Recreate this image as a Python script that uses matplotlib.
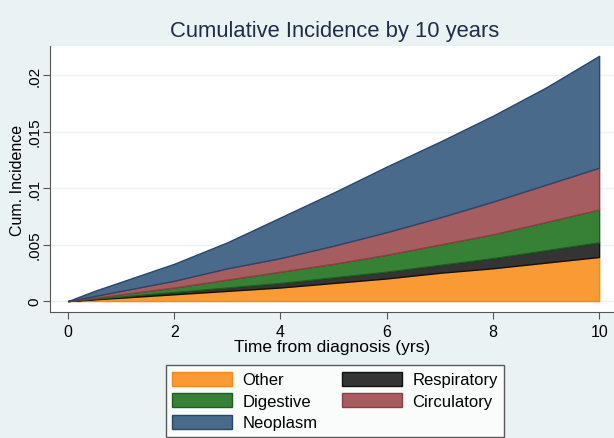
import numpy as np
import matplotlib.pyplot as plt

plt.rcParams['font.family'] = ['Liberation Sans', 'DejaVu Sans']

# time (years) and cumulative incidence, stacked tops for each cause
years = [0, 0.5, 1, 2, 3, 4, 5, 6, 7, 8, 9, 10]
other_top = [0, 0.00015, 0.0003, 0.0006, 0.0009, 0.0012, 0.0016, 0.0020, 0.0025, 0.0029, 0.0034, 0.0039]
respiratory_top = [0, 0.0002, 0.0004, 0.0008, 0.0012, 0.0016, 0.0021, 0.0026, 0.0032, 0.0038, 0.0045, 0.0052]
digestive_top = [0, 0.0003, 0.0006, 0.0012, 0.0019, 0.0026, 0.0033, 0.0041, 0.0050, 0.0059, 0.0070, 0.0081]
circulatory_top = [0, 0.00045, 0.0009, 0.0018, 0.0029, 0.0038, 0.0049, 0.0061, 0.0074, 0.0088, 0.0103, 0.0118]
neoplasm_top = [0, 0.0009, 0.0017, 0.0033, 0.0052, 0.0074, 0.0096, 0.0119, 0.0141, 0.0164, 0.0189, 0.0217]

xticks = [0, 2, 4, 6, 8, 10]
yticks = [0, 0.005, 0.01, 0.015, 0.02]
ytick_labels = ["0", ".005", ".01", ".015", ".02"]

bg = "#EAF2F3"
fig = plt.figure(figsize=(6.14, 4.39), dpi=100, facecolor=bg)
ax = fig.add_axes([50 / 614, 1 - 313 / 439, 564 / 614, 266 / 439])
ax.set_facecolor("white")

x = np.array(years)
layers = [
    ("Other", np.zeros(len(x)), other_top, "#FA9A34", "#F08A1E"),
    ("Respiratory", other_top, respiratory_top, "#343434", "#111111"),
    ("Digestive", respiratory_top, digestive_top, "#378136", "#1C5E1C"),
    ("Circulatory", digestive_top, circulatory_top, "#A55D60", "#8E3D42"),
    ("Neoplasm", circulatory_top, neoplasm_top, "#4A6A8B", "#28476B"),
]
handles = {}
for name, lo, hi, fc, ec in layers:
    h = ax.fill_between(x, lo, hi, facecolor=fc, edgecolor=ec, linewidth=1.0, label=name, zorder=3)
    handles[name] = h

ax.set_xlim(-0.34, 10.28)
ax.set_ylim(-0.00097, 0.02257)
ax.set_xticks(xticks)
ax.set_yticks(yticks)
ax.set_yticklabels(ytick_labels, rotation=90, va="center")
ax.grid(axis="y", color=bg, linewidth=1.0, zorder=0)
ax.tick_params(axis="both", length=5, color="#555555", labelcolor="black")
ax.tick_params(axis="x", labelsize=11.5)
ax.tick_params(axis="y", labelsize=11, pad=1)
for s in ["top", "right"]:
    ax.spines[s].set_visible(False)
for s in ["left", "bottom"]:
    ax.spines[s].set_color("#555555")

ax.set_xlabel("Time from diagnosis (yrs)", fontsize=12.5, labelpad=0)
ax.set_ylabel("Cum. Incidence", fontsize=11.5)
ax.yaxis.set_label_coords(-25 / 564, 0.5)
fig.text(335 / 614, 1 - 32 / 439, "Cumulative Incidence by 10 years", fontsize=15.8,
         color="#1E2D4B", ha="center", va="center")

order = ["Other", "Digestive", "Neoplasm", "Respiratory", "Circulatory"]
leg = fig.legend([handles[n] for n in order], order, ncol=2, loc="upper center",
                 bbox_to_anchor=(335 / 614, 1 - 366 / 439), fontsize=12,
                 frameon=True, fancybox=False, edgecolor="#333333",
                 handlelength=3.6, handleheight=0.9, columnspacing=1.5,
                 labelspacing=0.35, borderpad=0.4, handletextpad=0.6,
                 borderaxespad=0)
leg.get_frame().set_linewidth(1.0)

fig.savefig("out.png", dpi=100, facecolor=bg)
